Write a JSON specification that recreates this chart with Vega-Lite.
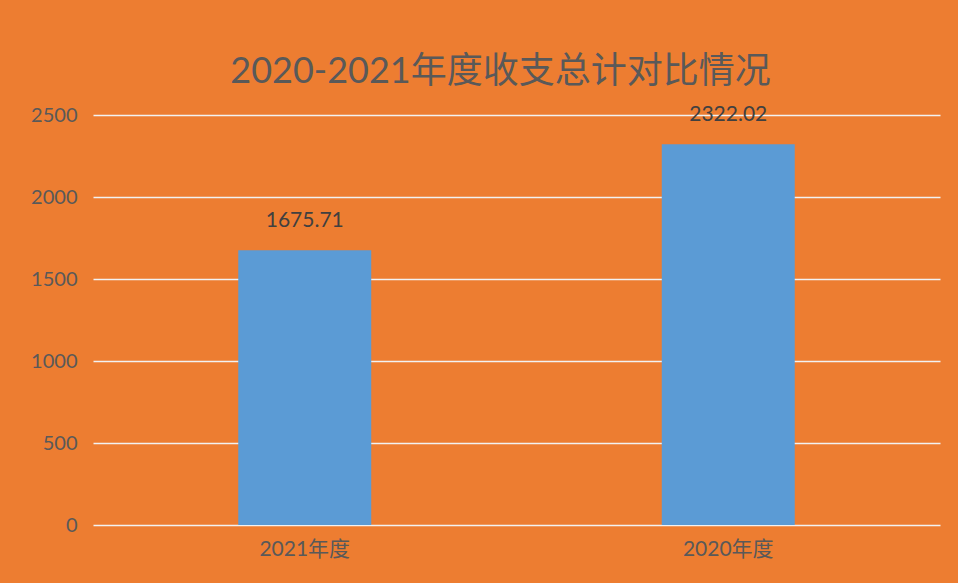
{
  "$schema": "https://vega.github.io/schema/vega-lite/v6.json",
  "autosize": "none",
  "width": 847,
  "height": 410,
  "padding": {"left": 93, "top": 115, "right": 18, "bottom": 58},
  "background": "#ED7D31",
  "config": {"view": {"stroke": null}, "font": "Lato, Noto Sans CJK SC"},
  "title": {
    "text": "2020-2021年度收支总计对比情况",
    "fontSize": 36,
    "fontWeight": "normal",
    "color": "#595959",
    "font": "Lato, Noto Sans CJK SC",
    "anchor": "middle",
    "dx": -16,
    "offset": 13
  },
  "data": {"values": [
    {"year": "2021年度", "value": 1675.71},
    {"year": "2020年度", "value": 2322.02}
  ]},
  "encoding": {
    "x": {"field": "year", "type": "nominal", "sort": null,
      "scale": {"paddingInner": 0, "paddingOuter": 0},
      "axis": {"title": null, "labelAngle": 0, "domain": false, "ticks": false, "labelFontSize": 21, "labelColor": "#595959", "labelPadding": 13, "labelFont": "Lato, Noto Sans CJK SC"}},
    "y": {"field": "value", "type": "quantitative",
      "scale": {"domain": [0, 2500]},
      "axis": {"title": null, "values": [0, 500, 1000, 1500, 2000, 2500], "format": "d", "domain": false, "ticks": false, "labelFontSize": 20, "labelColor": "#595959", "labelPadding": 16, "gridColor": "#F2F2F2", "gridWidth": 1.5, "gridOpacity": 1, "labelFont": "Lato, Noto Sans CJK SC"}}
  },
  "layer": [
    {"mark": {"type": "bar", "color": "#5B9BD5", "width": {"band": 0.314}}},
    {"mark": {"type": "text", "baseline": "bottom", "dy": -19, "fontSize": 21, "color": "#404040", "font": "Lato, Noto Sans CJK SC"},
     "encoding": {"text": {"field": "value", "type": "quantitative", "format": ".2f"}}}
  ]
}
